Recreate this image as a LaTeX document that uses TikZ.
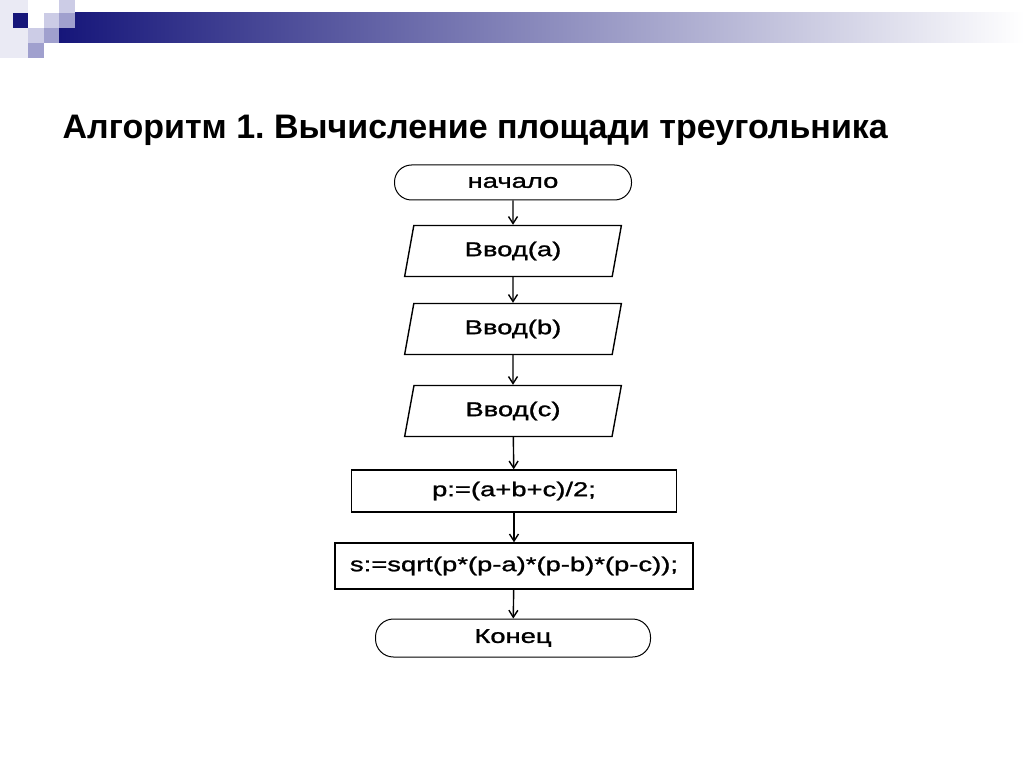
\documentclass[tikz,border=0pt]{standalone}
\usepackage{fontspec}
\setmainfont{Liberation Sans}
\newfontfamily\chartfont[FakeStretch=1.37,FakeBold=1.2]{Liberation Sans}
\usetikzlibrary{shapes.geometric,arrows.meta}
\definecolor{decodark}{RGB}{22,22,122}
\definecolor{decomid}{RGB}{160,160,206}
\definecolor{decolight}{RGB}{204,204,230}
\definecolor{decopale}{RGB}{234,234,244}
\definecolor{barmid}{RGB}{172,172,202}
\frenchspacing
\begin{document}
\begin{tikzpicture}[x=1pt,y=-1pt,line width=1.4pt,>={Straight Barb[length=7pt,width=9pt]}]
        \tikzstyle{terminal}=[draw,rectangle,rounded corners=17pt,line width=1pt,inner sep=0pt,font=\chartfont\fontsize{20}{23}\selectfont];
        \tikzstyle{inputbox}=[draw,trapezium,trapezium left angle=76.5,trapezium right angle=103.5,trapezium stretches=true,minimum width=217pt,minimum height=51pt,inner sep=0pt,font=\chartfont\fontsize{20}{23}\selectfont];
        \tikzstyle{process}=[draw,rectangle,inner sep=0pt,font=\chartfont\fontsize{20}{23}\selectfont];
        \useasboundingbox (0,0) rectangle (1024,767);
        % slide decoration
        \fill[white] (0,0) rectangle (1024,767);
        \shade[left color=decodark,middle color=barmid,right color=white] (59,13) rectangle (1024,43);
        \fill[decopale] (0,0) rectangle (28,58);
        \fill[decodark] (13,13) rectangle (28,28);
        \fill[decolight] (44,13) rectangle (59,28);
        \fill[decolight] (59,0) rectangle (75,13);
        \fill[decomid] (59,13) rectangle (75,28);
        \fill[decolight] (28,28) rectangle (44,43);
        \fill[decomid] (44,28) rectangle (59,43);
        \fill[decomid] (28,43) rectangle (44,58);
        \node[anchor=base west,inner sep=0pt,font=\bfseries\fontsize{34}{40}\selectfont] (title) at (62,139) {Алгоритм 1. Вычисление площади треугольника};
        % flowchart
        \node[terminal,minimum width=237pt,minimum height=35pt] (start) at (513,182.5) {начало};
        \node[inputbox] (ina) at (513,251) {Ввод(a)};
        \node[inputbox] (inb) at (513,329) {Ввод(b)};
        \node[inputbox] (inc) at (513,411) {Ввод(c)};
        \node[process,minimum width=325pt,minimum height=42pt] (halfp) at (514,491) {p:=(a+b+c)/2;};
        \node[process,minimum width=358pt,minimum height=46pt] (area) at (514,566) {s:=sqrt(p*(p-a)*(p-b)*(p-c));};
        \node[terminal,minimum width=275pt,minimum height=38pt,rounded corners=18pt] (stop) at (513,638) {Конец};
        \draw[->] (start) -- (ina);
        \draw[->] (ina) -- (inb);
        \draw[->] (inb) -- (inc);
        \draw[->] (inc) -- (halfp);
        \draw[->] (halfp) -- (area);
        \draw[->] (area) -- (stop);
      \end{tikzpicture}
\end{document}
